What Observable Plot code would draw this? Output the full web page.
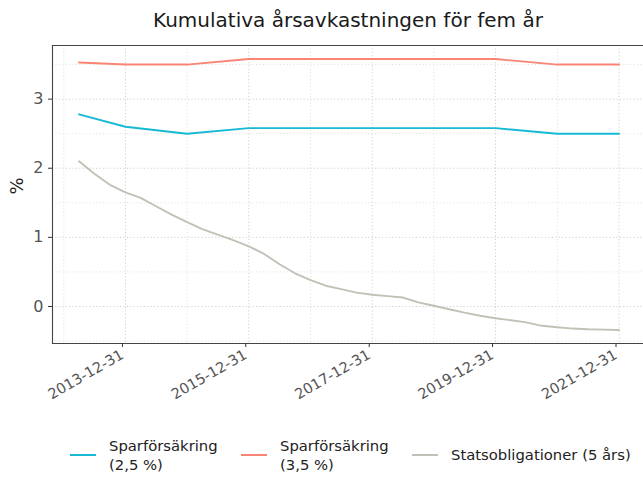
<!DOCTYPE html>
<html>
<head>
<meta charset="utf-8">
<script src="https://cdn.jsdelivr.net/npm/d3@7"></script>
<script src="https://cdn.jsdelivr.net/npm/@observablehq/plot@0.6"></script>
<style>
  body { margin: 0; background: #fff; font-family: "DejaVu Sans", sans-serif; }
  #wrap { position: relative; width: 643px; height: 477px; overflow: hidden; }
  #title { position: absolute; left: 52px; width: 592px; top: 8px; text-align: center; font-size: 20px; color: #1a1a1a; white-space: nowrap; }
  #legend { position: absolute; top: 432px; left: 0; width: 643px; height: 45px; }
  .item { position: absolute; display: flex; align-items: center; height: 45px; }
  .sw { width: 26px; height: 0; border-top: 2px solid; margin-right: 13px; }
  .lab { font-size: 14.8px; color: #222; line-height: 19px; white-space: pre; }
  svg { position: absolute; left: 0; top: 0; }
</style>
</head>
<body>
<div id="wrap">
  <div id="title">Kumulativa årsavkastningen för fem år</div>
  <div id="legend"></div>
</div>
<script>
// ---- data ----
const titleText = "Kumulativa årsavkastningen för fem år";
const yLabel = "%";
const seriesNames = ["Sparförsäkring (2,5 %)", "Sparförsäkring (3,5 %)", "Statsobligationer (5 års)"];
const legendLabels = ["Sparförsäkring\n(2,5 %)", "Sparförsäkring\n(3,5 %)", "Statsobligationer (5 års)"];
const seriesColors = ["#17b9d5", "#fa8474", "#bec3b5"];

const spar25Dates = ["2013-03-31","2013-12-31","2014-12-31","2015-12-31","2016-12-31","2017-12-31","2018-12-31","2019-12-31","2020-12-31","2021-12-31"];
const spar25Values = [2.78, 2.60, 2.50, 2.58, 2.58, 2.58, 2.58, 2.58, 2.50, 2.50];

const spar35Dates = ["2013-03-31","2013-12-31","2014-12-31","2015-12-31","2016-12-31","2017-12-31","2018-12-31","2019-12-31","2020-12-31","2021-12-31"];
const spar35Values = [3.53, 3.50, 3.50, 3.58, 3.58, 3.58, 3.58, 3.58, 3.50, 3.50];

const statsDates = [
  "2013-03-31","2013-06-30","2013-09-30","2013-12-31",
  "2014-03-31","2014-06-30","2014-09-30","2014-12-31",
  "2015-03-31","2015-06-30","2015-09-30","2015-12-31",
  "2016-03-31","2016-06-30","2016-09-30","2016-12-31",
  "2017-03-31","2017-06-30","2017-09-30","2017-12-31",
  "2018-03-31","2018-06-30","2018-09-30","2018-12-31",
  "2019-03-31","2019-06-30","2019-09-30","2019-12-31",
  "2020-03-31","2020-06-30","2020-09-30","2020-12-31",
  "2021-03-31","2021-06-30","2021-09-30","2021-12-31"];
const statsValues = [
  2.10, 1.92, 1.76, 1.65,
  1.57, 1.45, 1.33, 1.22,
  1.12, 1.04, 0.96, 0.87,
  0.76, 0.61, 0.48, 0.38,
  0.30, 0.25, 0.20, 0.17,
  0.15, 0.13, 0.06, 0.01,
  -0.04, -0.09, -0.135, -0.17,
  -0.20, -0.23, -0.28, -0.30,
  -0.32, -0.33, -0.335, -0.34];

const xTickDates = ["2013-12-31","2015-12-31","2017-12-31","2019-12-31","2021-12-31"];
const xMinorDates = ["2012-12-31","2014-12-31","2016-12-31","2018-12-31","2020-12-31"];
const yTicks = [0, 1, 2, 3];
const yMinor = [-0.5, 0.5, 1.5, 2.5, 3.5];

// ---- build table ----
const parse = d3.utcParse("%Y-%m-%d");
const rows = [];
[[spar25Dates, spar25Values], [spar35Dates, spar35Values], [statsDates, statsValues]].forEach(([ds, vs], i) => {
  ds.forEach((d, j) => rows.push({series: seriesNames[i], date: parse(d), value: vs[j]}));
});
const xt = xTickDates.map(parse);
const xm = xMinorDates.map(parse);

const [d0, d1] = d3.extent(rows, d => d.date);
const pad = (d1 - d0) * 0.05;
const [v0, v1] = d3.extent(rows, d => d.value);
const vpad = (v1 - v0) * 0.05;

const fmt = d3.utcFormat("%Y-%m-%d");
const gridStyle = {stroke: "#cfcfcf", strokeDasharray: "1.2,2.2", strokeWidth: 1, strokeOpacity: 1};
const minorStyle = {stroke: "#e2e2e2", strokeDasharray: "1.2,2.2", strokeWidth: 1, strokeOpacity: 1};

const chart = Plot.plot({
  width: 643,
  height: 477,
  marginTop: 45,
  marginBottom: 134,
  marginLeft: 52,
  marginRight: 0,
  style: {fontFamily: "DejaVu Sans, sans-serif", background: "transparent"},
  x: {type: "utc", domain: [new Date(+d0 - pad), new Date(+d1 + pad)], range: [51.5, 645.5]},
  y: {domain: [v0 - vpad, v1 + vpad]},
  color: {domain: seriesNames, range: seriesColors},
  marks: [
    Plot.ruleX(xm, {...minorStyle}),
    Plot.ruleY(yMinor, {...minorStyle}),
    Plot.ruleX(xt, {...gridStyle}),
    Plot.ruleY(yTicks, {...gridStyle}),
    Plot.frame({anchor: "left", stroke: "#444", strokeWidth: 1.1}),
    Plot.frame({anchor: "bottom", stroke: "#444", strokeWidth: 1.1}),
    Plot.frame({anchor: "top", stroke: "#444", strokeWidth: 1.1}),
    Plot.axisY({ticks: yTicks, tickFormat: d3.format("d"), tickSize: 4, tickPadding: 5, fontSize: 16, color: "#555", stroke: "#333", label: null}),
    Plot.axisX({ticks: xt, tickFormat: fmt, tickSize: 4, tickPadding: 6, tickRotate: -30, fontSize: 14.5, color: "#555", stroke: "#333", label: null, dx: -3}),
    Plot.lineY(rows, {x: "date", y: "value", stroke: "series", strokeWidth: 1.9, curve: "linear"}),
    Plot.text([yLabel], {frameAnchor: "left", dx: -35, rotate: -90, fontSize: 18, fill: "#222", text: d => d})
  ]
});
document.getElementById("wrap").prepend(chart);
document.getElementById("title").textContent = titleText;

// legend
const lg = document.getElementById("legend");
const lefts = [70, 241, 412];
legendLabels.forEach((lab, i) => {
  const it = document.createElement("div");
  it.className = "item";
  it.style.left = lefts[i] + "px";
  const sw = document.createElement("div");
  sw.className = "sw";
  sw.style.borderColor = seriesColors[i];
  const tx = document.createElement("div");
  tx.className = "lab";
  tx.textContent = lab;
  it.append(sw, tx);
  lg.append(it);
});
</script>
</body>
</html>
